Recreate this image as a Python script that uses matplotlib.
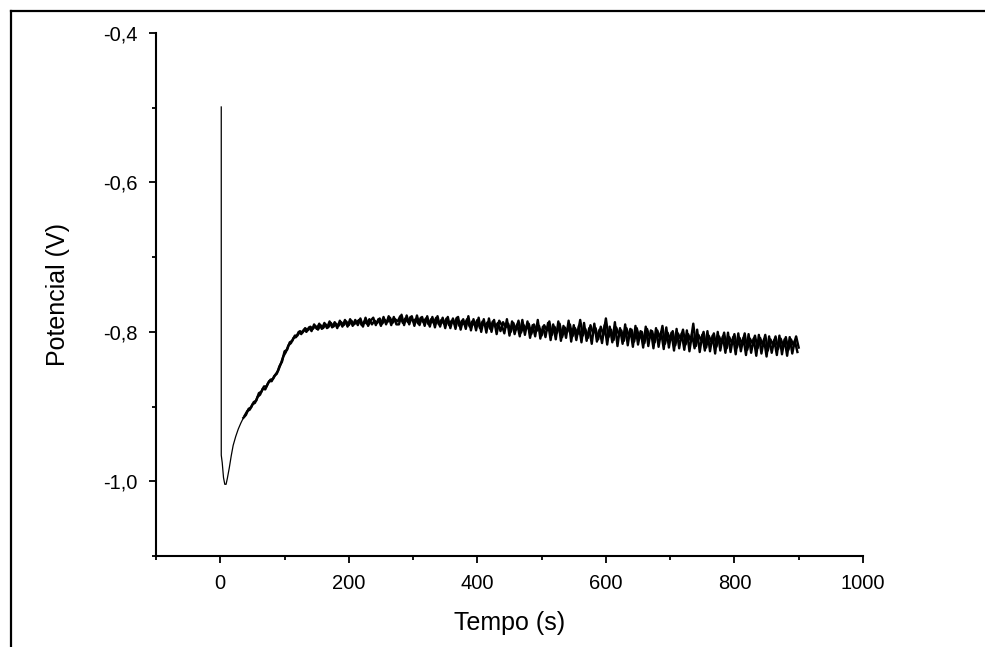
import numpy as np
import matplotlib.pyplot as plt
from matplotlib.lines import Line2D
from matplotlib.ticker import MultipleLocator, FuncFormatter

plt.rcParams['font.family'] = ['Liberation Sans', 'DejaVu Sans']

# pico inicial e minimo (tempo em s, potencial em V)
tempo_inicio = [1.5, 1.5, 3, 5, 7, 9, 11, 14, 17, 20, 24, 28, 32, 36]
potencial_inicio = [-0.499, -0.965, -0.975, -0.995, -1.004, -1.004, -0.996,
                    -0.982, -0.966, -0.952, -0.940, -0.930, -0.922, -0.915]

# registro ruidoso, leituras a cada 4 s de 36 s ate 900 s
tempo_a = np.arange(36, 901, 4)
potencial_a = [
    -0.915, -0.911, -0.903, -0.901, -0.894, -0.892, -0.882, -0.880, -0.873, -0.873,
    -0.866, -0.866, -0.859, -0.856, -0.846, -0.840, -0.826, -0.824, -0.814, -0.812,
    -0.805, -0.805, -0.799, -0.801, -0.795, -0.798, -0.793, -0.796, -0.792, -0.797,
    -0.791, -0.795, -0.790, -0.794, -0.788, -0.793, -0.789, -0.792, -0.787, -0.791,
    -0.786, -0.791, -0.785, -0.790, -0.787, -0.784, -0.791, -0.786, -0.789, -0.783,
    -0.790, -0.785, -0.788, -0.782, -0.789, -0.784, -0.787, -0.781, -0.788, -0.783,
    -0.786, -0.779, -0.788, -0.782, -0.787, -0.780, -0.786, -0.783, -0.789, -0.781,
    -0.787, -0.782, -0.790, -0.783, -0.788, -0.781, -0.790, -0.784, -0.789, -0.782,
    -0.791, -0.785, -0.789, -0.781, -0.792, -0.785, -0.790, -0.783, -0.793, -0.786,
    -0.791, -0.784, -0.795, -0.786, -0.792, -0.787, -0.796, -0.786, -0.793, -0.788,
    -0.799, -0.787, -0.794, -0.789, -0.800, -0.788, -0.797, -0.785, -0.801, -0.791,
    -0.796, -0.789, -0.803, -0.790, -0.799, -0.792, -0.805, -0.791, -0.798, -0.786,
    -0.804, -0.793, -0.801, -0.789, -0.807, -0.794, -0.800, -0.790, -0.806, -0.795,
    -0.803, -0.784, -0.805, -0.796, -0.808, -0.791, -0.802, -0.795, -0.810, -0.793,
    -0.804, -0.782, -0.807, -0.797, -0.811, -0.794, -0.803, -0.798, -0.812, -0.795,
    -0.806, -0.797, -0.813, -0.795, -0.808, -0.800, -0.815, -0.796, -0.807, -0.799,
    -0.814, -0.798, -0.809, -0.792, -0.816, -0.801, -0.810, -0.799, -0.818, -0.802,
    -0.809, -0.797, -0.817, -0.803, -0.812, -0.789, -0.819, -0.804, -0.811, -0.800,
    -0.821, -0.805, -0.813, -0.802, -0.820, -0.806, -0.814, -0.801, -0.822, -0.807,
    -0.815, -0.803, -0.821, -0.808, -0.816, -0.802, -0.824, -0.809, -0.815, -0.805,
    -0.822, -0.808, -0.818, -0.804, -0.825, -0.810, -0.817, -0.806, -0.823, -0.809,
    -0.819, -0.807, -0.824, -0.810, -0.818, -0.806, -0.821,
]

# leituras intermediarias, a cada 4 s de 38 s ate 898 s
tempo_b = np.arange(38, 899, 4)
potencial_b = [
    -0.912, -0.906, -0.904, -0.897, -0.895, -0.887, -0.884, -0.876, -0.877, -0.869,
    -0.864, -0.863, -0.857, -0.852, -0.843, -0.833, -0.827, -0.818, -0.815, -0.808,
    -0.807, -0.800, -0.803, -0.797, -0.800, -0.794, -0.799, -0.790, -0.796, -0.789,
    -0.796, -0.788, -0.795, -0.786, -0.794, -0.787, -0.795, -0.785, -0.793, -0.784,
    -0.793, -0.783, -0.792, -0.784, -0.791, -0.782, -0.793, -0.781, -0.792, -0.785,
    -0.781, -0.791, -0.783, -0.792, -0.780, -0.790, -0.779, -0.791, -0.780, -0.790,
    -0.790, -0.777, -0.791, -0.778, -0.790, -0.779, -0.792, -0.778, -0.791, -0.780,
    -0.792, -0.779, -0.793, -0.780, -0.794, -0.779, -0.793, -0.781, -0.795, -0.780,
    -0.795, -0.782, -0.796, -0.780, -0.797, -0.783, -0.796, -0.779, -0.798, -0.783,
    -0.798, -0.781, -0.800, -0.783, -0.801, -0.782, -0.800, -0.784, -0.803, -0.785,
    -0.791, -0.802, -0.783, -0.805, -0.786, -0.803, -0.790, -0.806, -0.784, -0.804,
    -0.786, -0.808, -0.791, -0.806, -0.784, -0.809, -0.793, -0.807, -0.788, -0.811,
    -0.790, -0.810, -0.786, -0.812, -0.792, -0.808, -0.785, -0.813, -0.791, -0.811,
    -0.792, -0.814, -0.788, -0.812, -0.795, -0.816, -0.789, -0.813, -0.797, -0.815,
    -0.791, -0.817, -0.793, -0.814, -0.787, -0.819, -0.795, -0.816, -0.790, -0.818,
    -0.796, -0.820, -0.792, -0.817, -0.799, -0.821, -0.793, -0.819, -0.798, -0.822,
    -0.795, -0.820, -0.800, -0.823, -0.794, -0.821, -0.801, -0.825, -0.796, -0.822,
    -0.802, -0.824, -0.798, -0.826, -0.803, -0.822, -0.797, -0.827, -0.804, -0.825,
    -0.799, -0.826, -0.805, -0.829, -0.800, -0.825, -0.806, -0.828, -0.801, -0.827,
    -0.807, -0.830, -0.802, -0.826, -0.808, -0.831, -0.803, -0.828, -0.809, -0.832,
    -0.804, -0.829, -0.810, -0.833, -0.806, -0.828, -0.811, -0.831, -0.805, -0.830,
    -0.810, -0.832, -0.807, -0.829, -0.812, -0.827,
]

fig = plt.figure(figsize=(9.85, 6.47), dpi=100)
ax = fig.add_axes([0.1584, 0.1406, 0.7177, 0.8084])

# trecho inicial liso e as duas series de leituras do trecho ruidoso
ax.plot(tempo_inicio, potencial_inicio, color='black', linewidth=0.9)
ax.plot(tempo_a, potencial_a, color='black', linewidth=1.7)
ax.plot(tempo_b, potencial_b, color='black', linewidth=1.7)

ax.set_xlim(-100, 1000)
ax.set_ylim(-1.1, -0.4)
ax.xaxis.set_major_locator(MultipleLocator(200))
ax.xaxis.set_minor_locator(MultipleLocator(100))
ax.yaxis.set_major_locator(MultipleLocator(0.2))
ax.yaxis.set_minor_locator(MultipleLocator(0.1))
ax.yaxis.set_major_formatter(FuncFormatter(lambda v, p: f'{v:.1f}'.replace('.', ',')))

for s in ['top', 'right']:
    ax.spines[s].set_visible(False)
for s in ['left', 'bottom']:
    ax.spines[s].set_linewidth(1.5)

ax.tick_params(which='major', direction='out', length=5, width=1.3,
               labelsize=14.5, pad=8)
ax.tick_params(which='minor', direction='out', length=3, width=1.3)

ax.set_xlabel('Tempo (s)', fontsize=18, labelpad=13)
ax.set_ylabel('Potencial (V)', fontsize=18, labelpad=24)

# moldura parcial da imagem (esquerda e topo)
fig.add_artist(Line2D([10.5 / 985, 10.5 / 985], [0, 1 - 11 / 647],
                      transform=fig.transFigure, color='black', linewidth=1.6))
fig.add_artist(Line2D([10.5 / 985, 1], [1 - 11 / 647, 1 - 11 / 647],
                      transform=fig.transFigure, color='black', linewidth=1.6))

plt.savefig('out.png', dpi=100, facecolor='white')
